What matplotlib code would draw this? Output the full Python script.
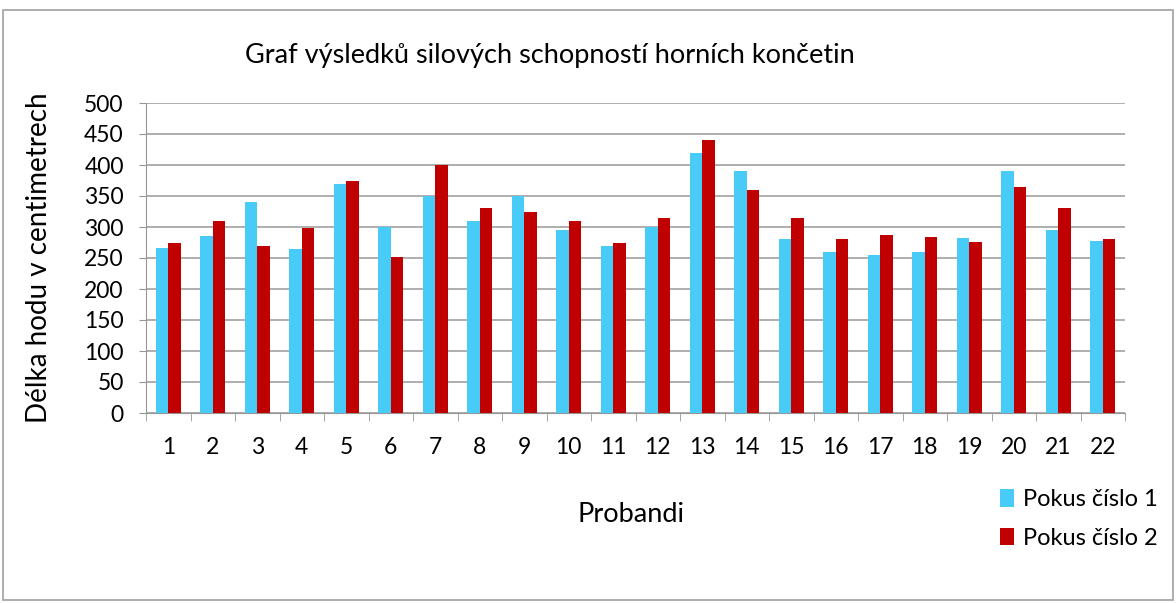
import numpy as np
import matplotlib.pyplot as plt
from matplotlib.patches import Rectangle

plt.rcParams['font.family'] = ['Lato', 'DejaVu Sans']

probandi = [str(i) for i in range(1, 23)]
pokus1 = [266, 285, 340, 265, 370, 300, 350, 310, 350, 295, 270,
          300, 420, 390, 280, 260, 255, 260, 282, 390, 295, 278]
pokus2 = [275, 310, 270, 298, 375, 252, 400, 330, 325, 310, 275,
          315, 440, 360, 315, 280, 287, 284, 276, 365, 330, 280]
yticks = list(range(0, 501, 50))

fig = plt.figure(figsize=(11.76, 6.03), dpi=100)
ax = fig.add_axes([146/1176, 1 - 413/603, 979/1176, 310/603])

x = np.arange(len(probandi))
w = 0.286
ax.bar(x - w/2, pokus1, w, color='#48CCF7', label='Pokus číslo 1', zorder=3)
ax.bar(x + w/2, pokus2, w, color='#C00000', label='Pokus číslo 2', zorder=3)

ax.set_xlim(-0.5, len(probandi) - 0.5)
ax.set_ylim(0, 500)
ax.set_yticks(yticks)
ax.set_xticks(x)
ax.set_xticklabels(probandi)
ax.set_xticks(np.arange(-0.5, len(probandi)), minor=True)
ax.tick_params(axis='x', which='major', length=0, pad=17, labelsize=16.5)
ax.tick_params(axis='x', which='minor', length=6, color='#969696', direction='out')
ax.tick_params(axis='y', length=5, color='#969696', labelsize=16.5, pad=11)
ax.grid(axis='y', color='#999999', linewidth=1.1, zorder=0)
for side in ['top', 'right']:
    ax.spines[side].set_visible(False)
for side in ['left', 'bottom']:
    ax.spines[side].set_color('#969696')

fig.text(550/1176, 1 - 55/603, 'Graf výsledků silových schopností horních končetin',
         ha='center', va='center', fontsize=19.5)
fig.text(631/1176, 1 - 515/603, 'Probandi', ha='center', va='center', fontsize=19.5)
fig.text(39/1176, 1 - 258/603, 'Délka hodu v centimetrech', rotation=90,
         ha='center', va='center', fontsize=20)

leg = fig.legend(loc='upper left', bbox_to_anchor=(979/1176, 1 - 468/603),
                 frameon=False, fontsize=17, handlelength=0.6, handleheight=0.75,
                 handletextpad=0.35, labelspacing=0.75)

fig.patches.append(Rectangle((3/1176, 1 - 600/603), 1170/1176, 590/603,
                             transform=fig.transFigure, fill=False,
                             edgecolor='#A0A0A0', linewidth=1.2))

fig.savefig('out.png', dpi=100)
